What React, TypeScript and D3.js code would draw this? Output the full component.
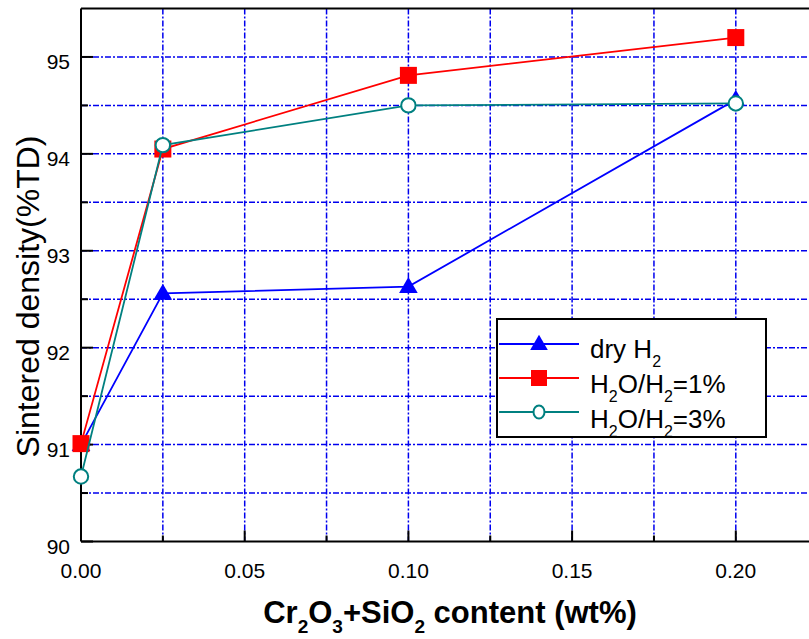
import React from "react";
import * as d3 from "d3";

const xValues = [0, 0.025, 0.1, 0.2];
const dryH2 = [91.0, 92.56, 92.63, 94.56];
const h2o1 = [91.01, 94.05, 94.81, 95.2];
const h2o3 = [90.67, 94.09, 94.5, 94.52];
const xTickLabels = ["0.00", "0.05", "0.10", "0.15", "0.20"];
const xTickValues = [0, 0.05, 0.1, 0.15, 0.2];
const yTickValues = [90, 91, 92, 93, 94, 95];

const W = 809;
const H = 639;
const FONT = "'Liberation Sans', Arial, Helvetica, sans-serif";
const BLUE = "#0000ff";
const RED = "#ff0000";
const TEAL = "#008080";
const GRID = "#0000ee";

export default function App() {
  const x = d3.scaleLinear().domain([0, 0.225]).range([81, 81 + 0.225 * 3274]);
  const y = d3.scaleLinear().domain([90, 95.5]).range([541.5, 8.5]);
  const x0 = x(0);
  const yBottom = y(90);
  const yTop = y(95.5);

  const gridX = d3.range(1, 9).map((i) => i * 0.025);
  const gridY = d3.range(1, 11).map((i) => 90 + i * 0.5);

  const line = d3
    .line<[number, number]>()
    .x((d) => x(d[0]))
    .y((d) => y(d[1]));

  const series = [
    { name: "dry", vals: dryH2, color: BLUE, marker: "tri" },
    { name: "h1", vals: h2o1, color: RED, marker: "sq" },
    { name: "h3", vals: h2o3, color: TEAL, marker: "circ" },
  ];

  const triPath = d3.symbol().type(d3.symbolTriangle).size(150)() as string;

  const marker = (kind: string, cx: number, cy: number, color: string, key: any, small = false) => {
    if (kind === "tri") {
      return (
        <path key={key} d={triPath} transform={`translate(${cx},${cy + 1}) scale(${small ? 0.95 : 1})`} fill={color} />
      );
    }
    if (kind === "sq") {
      const s = small ? 16 : 17;
      return <rect key={key} x={cx - s / 2} y={cy - s / 2} width={s} height={s} fill={color} />;
    }
    return small ? (
      <ellipse key={key} cx={cx} cy={cy} rx={5.5} ry={6.5} fill="#fff" stroke={color} strokeWidth={2} />
    ) : (
      <circle key={key} cx={cx} cy={cy} r={7.2} fill="#fff" stroke={color} strokeWidth={2} />
    );
  };

  const legendRows = [
    { marker: "tri", color: BLUE, y: 344 },
    { marker: "sq", color: RED, y: 378 },
    { marker: "circ", color: TEAL, y: 412 },
  ];

  return (
    <svg
      width={W}
      height={H}
      style={{ position: "absolute", left: 0, top: 0, background: "#fff" }}
      fontFamily={FONT}
    >
      <rect x={0} y={0} width={W} height={H} fill="#fff" />
      {/* grid */}
      <g stroke={GRID} strokeWidth={1.5} strokeDasharray="6,2,2,2" fill="none">
        {gridX.map((v, i) => (
          <line key={"gx" + i} x1={x(v)} x2={x(v)} y1={yTop} y2={yBottom} />
        ))}
        {gridY.map((v, i) => (
          <line key={"gy" + i} x1={x0} x2={W} y1={y(v)} y2={y(v)} />
        ))}
      </g>
      {/* axes */}
      <g stroke="#000" strokeWidth={2}>
        <line x1={x0} x2={W} y1={yBottom} y2={yBottom} />
        <line x1={x0} x2={W} y1={yTop} y2={yTop} />
        <line x1={x0} x2={x0} y1={yTop} y2={yBottom} />
        {gridY.concat([90]).map((v, i) => {
          const major = Math.abs(v - Math.round(v)) < 1e-6;
          return <line key={"ty" + i} x1={x0} x2={x0 + (major ? 12 : 7)} y1={y(v)} y2={y(v)} />;
        })}
        {gridX.map((v, i) => {
          const major = Math.abs(v / 0.05 - Math.round(v / 0.05)) < 1e-6;
          return <line key={"tx" + i} x1={x(v)} x2={x(v)} y1={yBottom} y2={yBottom - (major ? 11 : 6)} />;
        })}
      </g>
      {/* tick labels */}
      <g fontSize={21} fill="#000">
        {yTickValues.map((v) => (
          <text key={"yl" + v} x={70} y={y(v) + 12} textAnchor="end">
            {v}
          </text>
        ))}
        {xTickValues.map((v, i) => (
          <text key={"xl" + v} x={x(v)} y={578} textAnchor="middle">
            {xTickLabels[i]}
          </text>
        ))}
      </g>
      {/* axis titles */}
      <text
        transform={`translate(39,296.5) rotate(-90)`}
        textAnchor="middle"
        fontSize={32}
        fill="#000"
      >
        Sintered density(%TD)
      </text>
      <text x={450} y={623} textAnchor="middle" fontSize={31} fontWeight="bold" fill="#000">
        Cr
        <tspan fontSize={19} dy={10}>2</tspan>
        <tspan dy={-10}>O</tspan>
        <tspan fontSize={19} dy={10}>3</tspan>
        <tspan dy={-10}>+SiO</tspan>
        <tspan fontSize={19} dy={10}>2</tspan>
        <tspan dy={-10}> content (wt%)</tspan>
      </text>
      {/* series */}
      {series.map((s) => {
        const pts: [number, number][] = xValues.map((xv, i) => [xv, s.vals[i]]);
        return (
          <g key={s.name}>
            <path d={line(pts) as string} fill="none" stroke={s.color} strokeWidth={1.8} />
            {pts.map((p, i) => marker(s.marker, x(p[0]), y(p[1]), s.color, s.name + i))}
          </g>
        );
      })}
      {/* legend */}
      <rect x={497} y={319} width={269} height={118} fill="#fff" stroke="#000" strokeWidth={2} />
      {legendRows.map((r, i) => (
        <g key={"lg" + i}>
          <line x1={499} x2={579} y1={r.y} y2={r.y} stroke={r.color} strokeWidth={1.8} />
          {marker(r.marker, 539, r.y, r.color, "lm" + i, true)}
        </g>
      ))}
      <g fontSize={26} fill="#000">
        <text x={590} y={358}>
          dry H<tspan fontSize={16} dy={9}>2</tspan>
        </text>
        <text x={590} y={393}>
          H<tspan fontSize={16} dy={9}>2</tspan>
          <tspan dy={-9}>O/H</tspan>
          <tspan fontSize={16} dy={9}>2</tspan>
          <tspan dy={-9}>=1%</tspan>
        </text>
        <text x={590} y={428}>
          H<tspan fontSize={16} dy={9}>2</tspan>
          <tspan dy={-9}>O/H</tspan>
          <tspan fontSize={16} dy={9}>2</tspan>
          <tspan dy={-9}>=3%</tspan>
        </text>
      </g>
    </svg>
  );
}
